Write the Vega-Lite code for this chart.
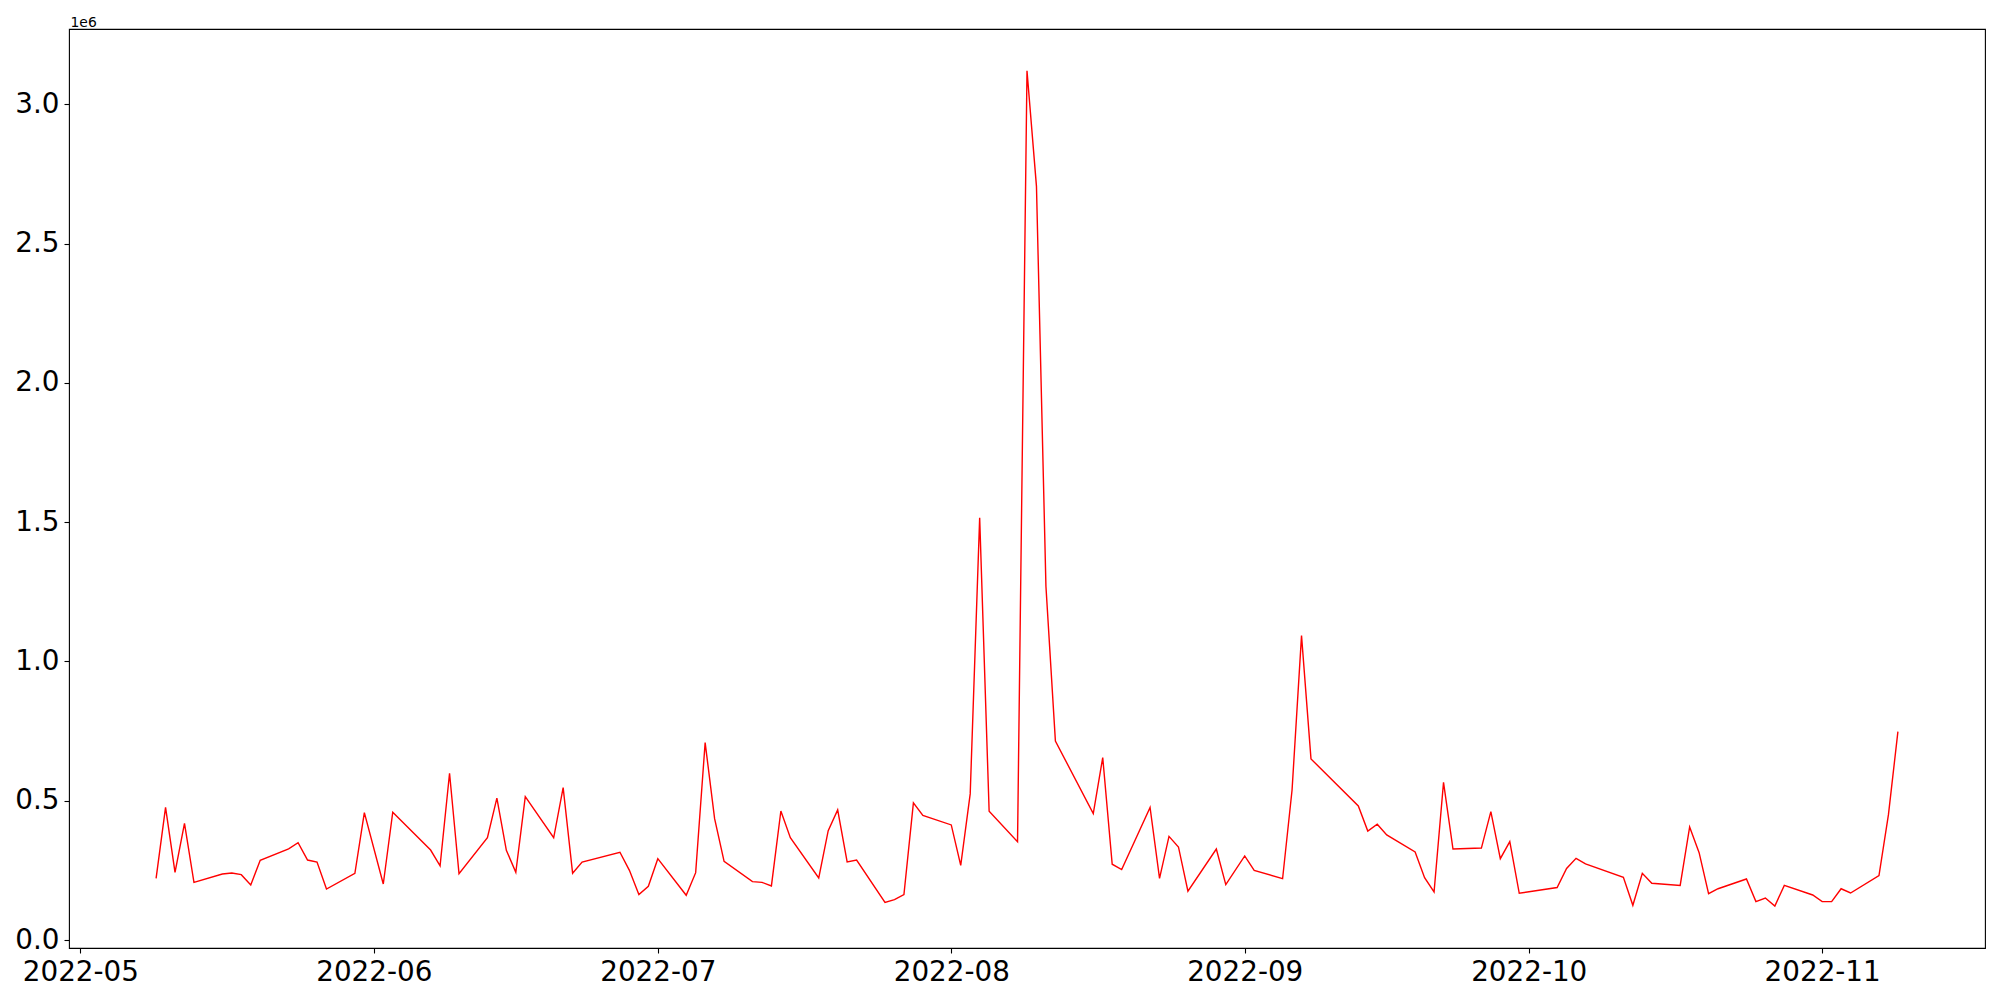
{
  "$schema": "https://vega.github.io/schema/vega-lite/v6.json",
  "width": 1916,
  "height": 919,
  "autosize": "none",
  "padding": {"left": 69, "top": 29, "right": 15, "bottom": 52},
  "background": "white",
  "config": {"view": {"stroke": "black", "strokeWidth": 1.1}},
  "data": {
    "values": [
      {"date": "2022-05-09", "value": 221500},
      {"date": "2022-05-10", "value": 476000},
      {"date": "2022-05-11", "value": 243000},
      {"date": "2022-05-12", "value": 419000},
      {"date": "2022-05-13", "value": 207000},
      {"date": "2022-05-16", "value": 237000},
      {"date": "2022-05-17", "value": 240500},
      {"date": "2022-05-18", "value": 234500},
      {"date": "2022-05-19", "value": 197500},
      {"date": "2022-05-20", "value": 286000},
      {"date": "2022-05-23", "value": 327000},
      {"date": "2022-05-24", "value": 349000},
      {"date": "2022-05-25", "value": 287000},
      {"date": "2022-05-26", "value": 280000},
      {"date": "2022-05-27", "value": 183000},
      {"date": "2022-05-30", "value": 239500},
      {"date": "2022-05-31", "value": 457000},
      {"date": "2022-06-02", "value": 201000},
      {"date": "2022-06-03", "value": 458500},
      {"date": "2022-06-07", "value": 323000},
      {"date": "2022-06-08", "value": 266000},
      {"date": "2022-06-09", "value": 598500},
      {"date": "2022-06-10", "value": 238000},
      {"date": "2022-06-13", "value": 367000},
      {"date": "2022-06-14", "value": 509000},
      {"date": "2022-06-15", "value": 322000},
      {"date": "2022-06-16", "value": 243000},
      {"date": "2022-06-17", "value": 514600},
      {"date": "2022-06-20", "value": 367000},
      {"date": "2022-06-21", "value": 547000},
      {"date": "2022-06-22", "value": 239500},
      {"date": "2022-06-23", "value": 280000},
      {"date": "2022-06-27", "value": 315000},
      {"date": "2022-06-28", "value": 250000},
      {"date": "2022-06-29", "value": 163000},
      {"date": "2022-06-30", "value": 193000},
      {"date": "2022-07-01", "value": 292000},
      {"date": "2022-07-04", "value": 160500},
      {"date": "2022-07-05", "value": 241700},
      {"date": "2022-07-06", "value": 708500},
      {"date": "2022-07-07", "value": 435600},
      {"date": "2022-07-08", "value": 282500},
      {"date": "2022-07-11", "value": 209400},
      {"date": "2022-07-12", "value": 207000},
      {"date": "2022-07-13", "value": 194000},
      {"date": "2022-07-14", "value": 463000},
      {"date": "2022-07-15", "value": 367000},
      {"date": "2022-07-18", "value": 222600},
      {"date": "2022-07-19", "value": 392600},
      {"date": "2022-07-20", "value": 467000},
      {"date": "2022-07-21", "value": 280000},
      {"date": "2022-07-22", "value": 287000},
      {"date": "2022-07-25", "value": 135000},
      {"date": "2022-07-26", "value": 145000},
      {"date": "2022-07-27", "value": 163000},
      {"date": "2022-07-28", "value": 492000},
      {"date": "2022-07-29", "value": 447000},
      {"date": "2022-08-01", "value": 413000},
      {"date": "2022-08-02", "value": 268000},
      {"date": "2022-08-03", "value": 524500},
      {"date": "2022-08-04", "value": 1515600},
      {"date": "2022-08-05", "value": 462000},
      {"date": "2022-08-08", "value": 353000},
      {"date": "2022-08-09", "value": 3120000},
      {"date": "2022-08-10", "value": 2705000},
      {"date": "2022-08-11", "value": 1270000},
      {"date": "2022-08-12", "value": 714000},
      {"date": "2022-08-16", "value": 454000},
      {"date": "2022-08-17", "value": 655000},
      {"date": "2022-08-18", "value": 272000},
      {"date": "2022-08-19", "value": 253000},
      {"date": "2022-08-22", "value": 476000},
      {"date": "2022-08-23", "value": 221000},
      {"date": "2022-08-24", "value": 372000},
      {"date": "2022-08-25", "value": 334000},
      {"date": "2022-08-26", "value": 175000},
      {"date": "2022-08-29", "value": 326700},
      {"date": "2022-08-30", "value": 198700},
      {"date": "2022-09-01", "value": 301600},
      {"date": "2022-09-02", "value": 250000},
      {"date": "2022-09-05", "value": 220000},
      {"date": "2022-09-06", "value": 538600},
      {"date": "2022-09-07", "value": 1092700},
      {"date": "2022-09-08", "value": 650000},
      {"date": "2022-09-13", "value": 481000},
      {"date": "2022-09-14", "value": 391000},
      {"date": "2022-09-15", "value": 415400},
      {"date": "2022-09-16", "value": 377000},
      {"date": "2022-09-19", "value": 316000},
      {"date": "2022-09-20", "value": 223800},
      {"date": "2022-09-21", "value": 172400},
      {"date": "2022-09-22", "value": 566000},
      {"date": "2022-09-23", "value": 326700},
      {"date": "2022-09-26", "value": 330000},
      {"date": "2022-09-27", "value": 460800},
      {"date": "2022-09-28", "value": 292000},
      {"date": "2022-09-29", "value": 353000},
      {"date": "2022-09-30", "value": 167700},
      {"date": "2022-10-04", "value": 188500},
      {"date": "2022-10-05", "value": 256700},
      {"date": "2022-10-06", "value": 293300},
      {"date": "2022-10-07", "value": 273000},
      {"date": "2022-10-11", "value": 225000},
      {"date": "2022-10-12", "value": 124500},
      {"date": "2022-10-13", "value": 239400},
      {"date": "2022-10-14", "value": 203500},
      {"date": "2022-10-17", "value": 196000},
      {"date": "2022-10-18", "value": 405700},
      {"date": "2022-10-19", "value": 313600},
      {"date": "2022-10-20", "value": 166400},
      {"date": "2022-10-21", "value": 184000},
      {"date": "2022-10-24", "value": 219000},
      {"date": "2022-10-25", "value": 137700},
      {"date": "2022-10-26", "value": 150800},
      {"date": "2022-10-27", "value": 122000},
      {"date": "2022-10-28", "value": 196000},
      {"date": "2022-10-31", "value": 161600},
      {"date": "2022-11-01", "value": 137700},
      {"date": "2022-11-02", "value": 137700},
      {"date": "2022-11-03", "value": 184000},
      {"date": "2022-11-04", "value": 168800},
      {"date": "2022-11-07", "value": 231000},
      {"date": "2022-11-08", "value": 450000},
      {"date": "2022-11-09", "value": 748000}
    ]
  },
  "mark": {"type": "line", "color": "red", "strokeWidth": 1.4},
  "encoding": {
    "x": {
      "field": "date",
      "type": "temporal",
      "scale": {
        "type": "utc",
        "domain": [
          {"year": 2022, "month": 4, "date": 29, "hours": 19, "minutes": 12, "utc": true},
          {"year": 2022, "month": 11, "date": 18, "hours": 4, "minutes": 48, "utc": true}
        ]
      },
      "axis": {
        "values": [
          {"year": 2022, "month": 5, "date": 1, "utc": true},
          {"year": 2022, "month": 6, "date": 1, "utc": true},
          {"year": 2022, "month": 7, "date": 1, "utc": true},
          {"year": 2022, "month": 8, "date": 1, "utc": true},
          {"year": 2022, "month": 9, "date": 1, "utc": true},
          {"year": 2022, "month": 10, "date": 1, "utc": true},
          {"year": 2022, "month": 11, "date": 1, "utc": true}
        ],
        "format": "%Y-%m",
        "title": null,
        "grid": false,
        "domain": false,
        "tickColor": "black",
        "tickSize": 5,
        "tickWidth": 1.1,
        "labelFont": "DejaVu Sans",
        "labelFontSize": 27.8,
        "labelColor": "black",
        "labelPadding": 5,
        "labelOverlap": false,
        "labelFlush": false
      }
    },
    "y": {
      "field": "value",
      "type": "quantitative",
      "scale": {"domain": [-28700, 3270000], "nice": false, "zero": false},
      "axis": {
        "values": [0, 500000, 1000000, 1500000, 2000000, 2500000, 3000000],
        "labelExpr": "format(datum.value / 1000000, '.1f')",
        "grid": false,
        "domain": false,
        "tickColor": "black",
        "tickSize": 5,
        "tickWidth": 1.1,
        "labelFont": "DejaVu Sans",
        "labelFontSize": 27.8,
        "labelColor": "black",
        "labelPadding": 5,
        "title": "1e6",
        "titleAngle": 0,
        "titleX": 1,
        "titleY": -3,
        "titleAlign": "left",
        "titleBaseline": "alphabetic",
        "titleFont": "DejaVu Sans",
        "titleFontSize": 13.9,
        "titleFontWeight": "normal",
        "titleColor": "black"
      }
    }
  }
}
